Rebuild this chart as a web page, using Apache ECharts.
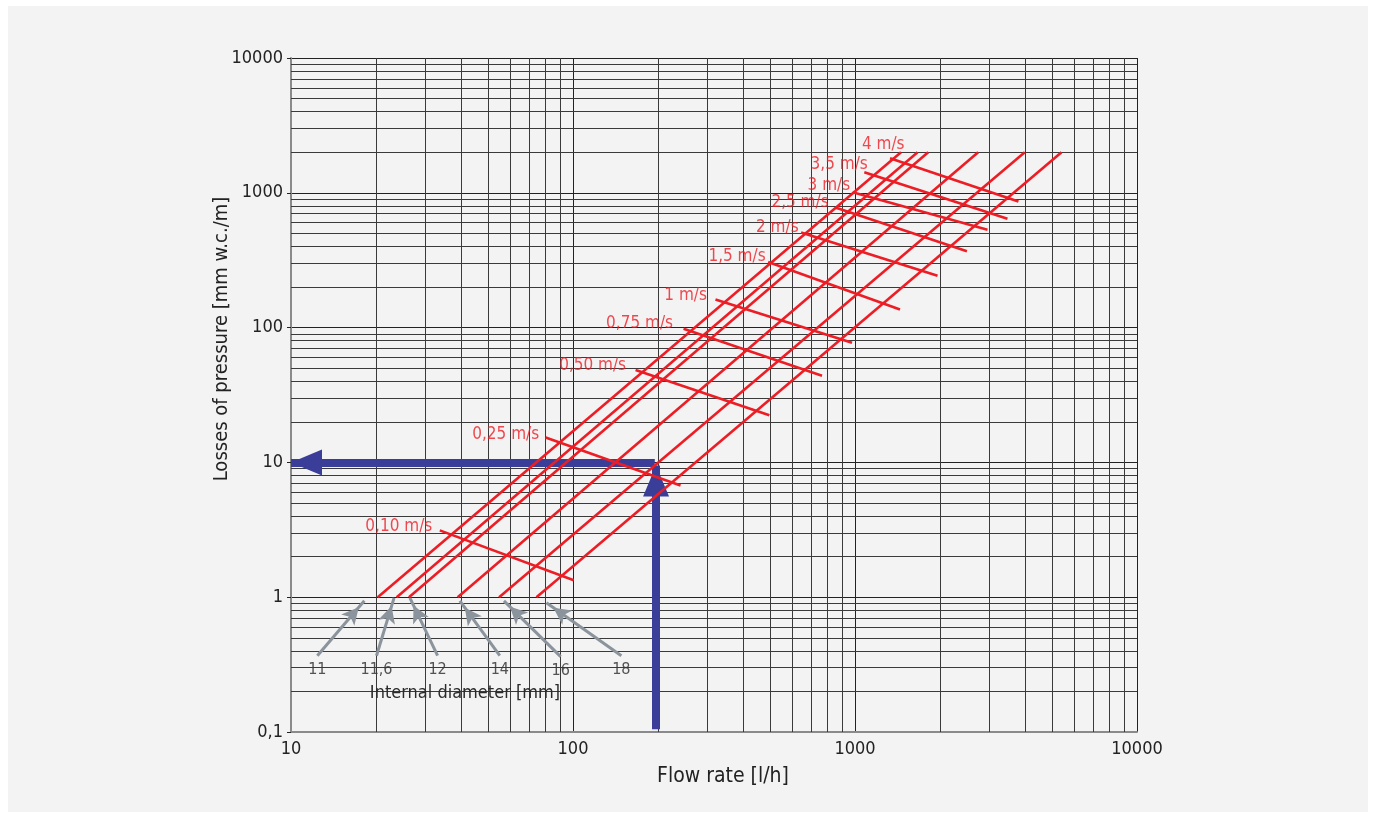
<!DOCTYPE html>
<html><head><meta charset="utf-8">
<script src="https://cdn.jsdelivr.net/npm/echarts@6/dist/echarts.min.js"></script>
<style>
html,body{margin:0;padding:0;background:#fff;width:1375px;height:818px;overflow:hidden}
#c{position:absolute;left:8px;top:6px;width:1360px;height:806px;background:#f3f3f3}
</style></head><body><div id="c"></div>
<script>
const FONT = '"Liberation Sans Narrow","DejaVu Sans Condensed","Roboto Condensed",sans-serif';

// ---- data (flow rate l/h, pressure loss mm w.c./m) ----
const xTicks = [10, 100, 1000, 10000];
const yTicks = [0.1, 1, 10, 100, 1000, 10000];
const diameterNames = ['11', '11,6', '12', '14', '16', '18'];
const diameterStart = [[20.3, 1], [23.7, 1], [26.2, 1], [39, 1], [54.7, 1], [74.2, 1]];
const diameterEnd = [[1456, 2000], [1667, 2000], [1818, 2000], [2734, 2000], [4000, 2000], [5400, 2000]];
const velocityNames = ['0,10 m/s', '0,25 m/s', '0,50 m/s', '0,75 m/s', '1 m/s', '1,5 m/s', '2 m/s', '2,5 m/s', '3 m/s', '3,5 m/s', '4 m/s'];
const velocityStart = [[33.7, 3.13], [80, 15.3], [166.7, 48.5], [246.6, 98], [320, 161.7], [492, 306.7], [644, 508.5], [857, 774], [981, 1009], [1079, 1419], [1331, 1801]];
const velocityEnd = [[100.6, 1.336], [240.6, 6.73], [497, 22.4], [764, 44], [976, 77.2], [1444, 136.3], [1962, 242.4], [2494, 367.9], [2950, 532], [3472, 642], [3798, 862]];
const diameterArrowTail = [[12.4, 0.368], [20.1, 0.368], [33.1, 0.368], [55, 0.368], [90.4, 0.362], [148.4, 0.368]];
const diameterArrowTip = [[18.2, 0.94], [23.2, 0.989], [26.4, 0.989], [39.7, 0.94], [56.9, 0.94], [80.5, 0.908]];
const exampleFlow = 197;
const examplePressure = 10;
const exampleArrowTip = 9.5;
const exampleArrowBottom = 0.105;
const minorMultipliers = [2, 3, 4, 5, 6, 7, 8, 9];

// ---- styles ----
const RED = '#ec1d25';
const BLUE = '#3b3e98';
const GREY = '#8b949c';
const velocityLabelOffset = [[-7, -4], [-6, -3], [-9, -4], [-10, -5], [-8, -4], [-2, -5], [-2, -5], [-7, -5], [-2, -7], [4, -8], [15, -14]];

function minorValues(ticks) {
  const out = [];
  for (let i = 0; i < ticks.length - 1; i++) minorMultipliers.forEach(m => out.push(+(ticks[i] * m).toPrecision(3)));
  return out;
}

const series = [];
// minor grid
series.push({
  type: 'line', data: [], silent: true,
  markLine: {
    silent: true, symbol: 'none', animation: false,
    label: { show: false },
    lineStyle: { color: '#3a3a3a', width: 1, type: 'solid' },
    emphasis: { disabled: true },
    data: minorValues(xTicks).map(v => ({ xAxis: v })).concat(minorValues(yTicks).map(v => ({ yAxis: v })))
  }
});
// blue example arrows
series.push({
  type: 'line', data: [], silent: true, z: 3,
  markLine: {
    silent: true, animation: false,
    symbol: ['none', 'triangle'],
    symbolSize: [26, 31],
    symbolOffset: [[0, 0], [0, 15.5]],
    label: { show: false },
    emphasis: { disabled: true },
    lineStyle: { color: BLUE, width: 8, type: 'solid', opacity: 1 },
    itemStyle: { color: BLUE },
    data: [
      [{ coord: [exampleFlow, exampleArrowBottom] }, { coord: [exampleFlow, exampleArrowTip] }],
      [{ coord: [exampleFlow - 2, examplePressure] }, { coord: [xTicks[0], examplePressure] }]
    ]
  }
});
// grey diameter arrows
series.push({
  type: 'line', data: [], silent: true, z: 3,
  markLine: {
    silent: true, animation: false,
    symbol: ['none', 'arrow'],
    symbolSize: [13, 17],
    symbolOffset: [[0, 0], [0, 8.5]],
    label: { show: false },
    emphasis: { disabled: true },
    lineStyle: { color: GREY, width: 3, type: 'solid', opacity: 1 },
    itemStyle: { color: GREY },
    data: diameterArrowTail.map((t, i) => [{ coord: t }, { coord: diameterArrowTip[i] }])
  }
});
// diameter labels
series.push({
  type: 'scatter', silent: true, z: 4, symbolSize: 1,
  itemStyle: { color: 'rgba(0,0,0,0)' },
  label: { show: true, position: 'bottom', distance: 6, formatter: p => diameterNames[p.dataIndex], fontFamily: FONT, fontSize: 16, color: '#2a2a2a' },
  data: diameterArrowTail
});
// diameter lines
diameterNames.forEach((n, i) => series.push({
  type: 'line', name: n, z: 5, symbol: 'none', silent: true,
  lineStyle: { color: RED, width: 2.6 },
  data: [diameterStart[i], diameterEnd[i]]
}));
// velocity lines
velocityNames.forEach((n, i) => series.push({
  type: 'line', name: n, z: 5, symbol: 'none', silent: true,
  lineStyle: { color: RED, width: 2.6 },
  data: [velocityStart[i], velocityEnd[i]]
}));
// velocity labels
series.push({
  type: 'scatter', silent: true, z: 6, symbolSize: 1,
  itemStyle: { color: 'rgba(0,0,0,0)' },
  data: velocityStart.map((p, i) => ({
    value: p,
    label: { show: true, position: 'left', distance: 0, offset: velocityLabelOffset[i], formatter: velocityNames[i], fontFamily: FONT, fontSize: 17, color: RED }
  }))
});

const fmt = v => String(+(+v).toPrecision(6)).replace('.', ',');
const chart = echarts.init(document.getElementById('c'), null, { renderer: 'canvas' });
chart.setOption({
  animation: false,
  backgroundColor: '#f3f3f3',
  grid: { left: 283, top: 52, width: 846, height: 674, containLabel: false },
  xAxis: {
    type: 'log', logBase: 10, min: xTicks[0], max: xTicks[xTicks.length - 1],
    axisLine: { show: true, lineStyle: { color: '#8a8a8a', width: 2 } },
    axisTick: { show: false },
    axisLabel: { fontFamily: FONT, fontSize: 18, color: '#222', margin: 8, formatter: fmt },
    splitLine: { show: true, lineStyle: { color: '#222', width: 1 } }
  },
  yAxis: {
    type: 'log', logBase: 10, min: yTicks[0], max: yTicks[yTicks.length - 1],
    axisLine: { show: true, lineStyle: { color: '#8a8a8a', width: 2 } },
    axisTick: { show: true, length: 4, lineStyle: { color: '#222' } },
    axisLabel: { fontFamily: FONT, fontSize: 18, color: '#222', margin: 8, formatter: fmt },
    splitLine: { show: true, lineStyle: { color: '#222', width: 1 } }
  },
  graphic: [
    { type: 'text', x: 214, y: 333, rotation: Math.PI / 2, style: { text: 'Losses of pressure [mm w.c./m]', fontFamily: FONT, fontSize: 20, fill: '#222', align: 'center', verticalAlign: 'middle' } },
    { type: 'text', x: 715, y: 771, style: { text: 'Flow rate [l/h]', fontFamily: FONT, fontSize: 21, fill: '#222', align: 'center', verticalAlign: 'middle' } },
    { type: 'text', x: 457, y: 687, z: 10, style: { text: 'Internal diameter [mm]', fontFamily: FONT, fontSize: 18, fill: '#2a2a2a', align: 'center', verticalAlign: 'middle' } }
  ],
  series: series
});
</script></body></html>
